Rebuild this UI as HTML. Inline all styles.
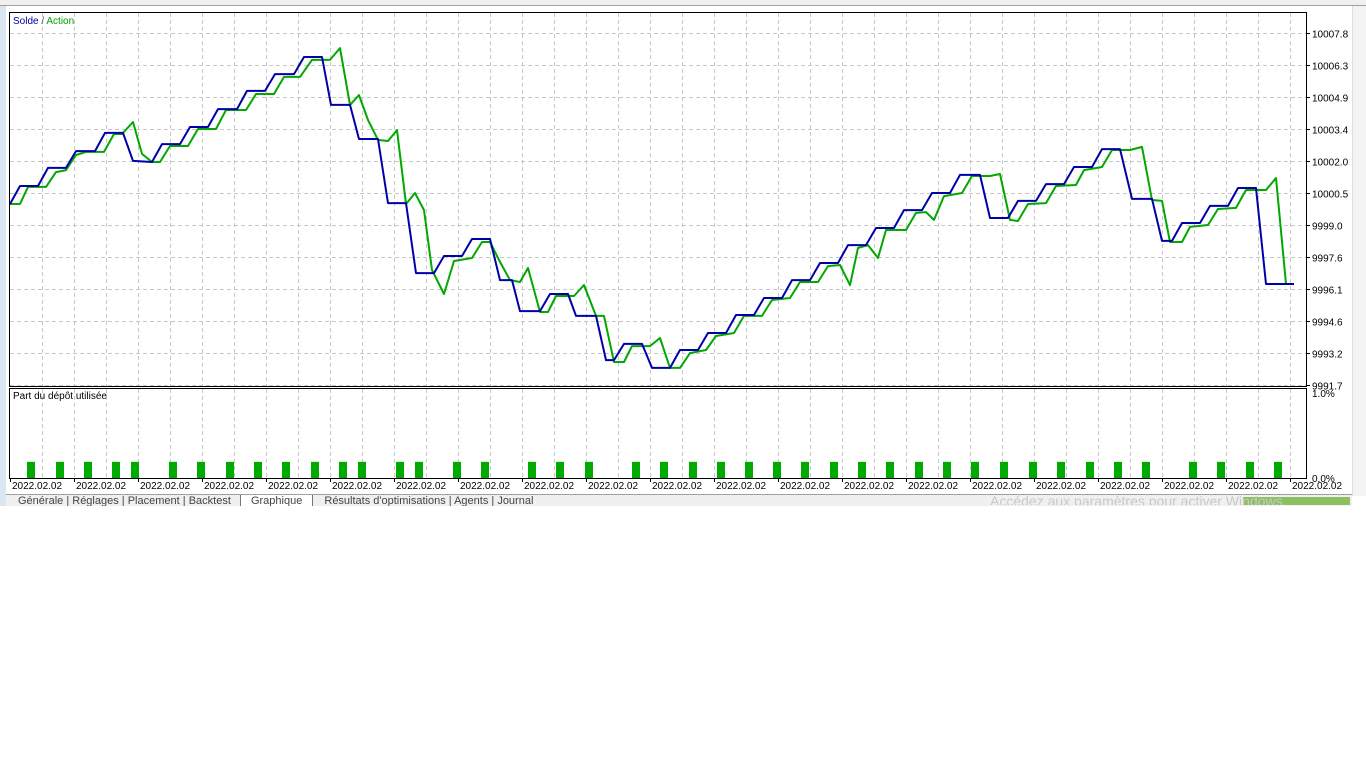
<!DOCTYPE html>
<html><head><meta charset="utf-8">
<style>
body{margin:0;width:1366px;height:768px;background:#fff;overflow:hidden;font-family:"Liberation Sans",sans-serif;position:relative}
.abs{position:absolute}
</style></head>
<body>
<div class="abs" style="left:0;top:0;width:1366px;height:5px;background:#f0f0f0;border-bottom:1px solid #a0a0a0"></div>
<div class="abs" style="left:0;top:6px;width:6px;height:500px;background:#dce6f0"></div>
<div class="abs" style="left:1352px;top:6px;width:14px;height:490px;background:#f4f4f4;border-left:1px solid #ddd"></div>
<svg class="abs" style="left:0;top:0" width="1366" height="768">
<g id="grid"></g>
<rect x="9.5" y="12.5" width="1297" height="374" fill="none" stroke="#000"/>
<rect x="9.5" y="388.5" width="1297" height="90" fill="none" stroke="#000"/>
<g id="marks"></g>
<g id="labels" font-size="10" fill="#000" font-family="Liberation Sans, sans-serif"></g>
<text x="13" y="24" font-size="10"><tspan fill="#0000a0">Solde</tspan><tspan fill="#555"> / </tspan><tspan fill="#00a000">Action</tspan></text>
<text x="13" y="399" font-size="10">Part du dépôt utilisée</text>
</svg>
<div class="abs" style="left:6px;top:494px;width:1346px;height:11px;overflow:hidden;background:#f0f0f0;border-top:1px solid #a0a0a0;font-size:11px;color:#444;white-space:nowrap">
<span style="margin-left:12px">Générale</span> |
<span>Réglages</span> |
<span>Placement</span> |
<span>Backtest</span>
<span style="background:#fff;padding:0 10px;margin-left:6px;border:1px solid #777">Graphique</span>
<span style="margin-left:8px">Résultats d'optimisations</span> |
<span>Agents</span> |
<span>Journal</span>
</div>
<div class="abs" style="left:1243px;top:497px;width:107px;height:8px;background:#8cc060"></div>
<div class="abs" style="left:990px;top:493px;font-size:14px;color:#c8c8c8;white-space:nowrap;height:12px;overflow:hidden">Accédez aux paramètres pour activer Windows.</div>
<script>
const blueT=[0,10,28,38,56,66,85,95,113,123,142,152,170,180,198,208,227,237,255,265,284,294,312,321,340,349,368,378,396,406,424,434,452,462,480,490,502,510,530,540,558,566,586,596,604,614,632,642,660,670,688,698,716,726,744,754,772,782,800,810,828,838,856,866,884,894,912,922,940,950,970,980,998,1008,1026,1036,1054,1064,1082,1092,1110,1122,1142,1152,1162,1172,1190,1200,1218,1228,1246,1256,1284];
const blueV=[9999.98,10000.80,10000.80,10001.63,10001.63,10002.40,10002.40,10003.23,10003.23,10001.95,10001.90,10002.72,10002.72,10003.50,10003.50,10004.32,10004.32,10005.15,10005.15,10005.92,10005.92,10006.70,10006.70,10004.51,10004.51,10002.95,10002.95,10000.02,10000.02,9996.82,9996.82,9997.60,9997.60,9998.38,9998.38,9996.50,9996.50,9995.08,9995.08,9995.86,9995.86,9994.86,9994.86,9992.84,9992.84,9993.58,9993.58,9992.48,9992.48,9993.30,9993.30,9994.08,9994.08,9994.90,9994.90,9995.68,9995.68,9996.50,9996.50,9997.28,9997.28,9998.10,9998.10,9998.88,9998.88,9999.70,9999.70,10000.48,10000.48,10001.31,10001.31,9999.34,9999.34,10000.12,10000.12,10000.89,10000.89,10001.67,10001.67,10002.49,10002.49,10000.21,10000.21,9998.29,9998.29,9999.11,9999.11,9999.89,9999.89,10000.71,10000.71,9996.32,9996.32];
const greenT=[0,10,18,36,46,56,66,76,94,104,112,123,132,142,150,160,178,188,206,216,236,246,264,274,290,302,320,330,340,349,358,368,378,387,396,405,414,422,434,444,462,472,480,490,500,510,518,530,538,546,564,574,586,594,604,614,622,640,650,660,670,680,696,706,724,734,752,762,780,790,808,818,830,840,848,858,868,876,896,906,916,924,934,952,962,980,990,1000,1008,1018,1036,1046,1066,1074,1092,1102,1120,1132,1142,1152,1160,1172,1180,1198,1208,1226,1236,1256,1266,1276,1284];
const greenV=[9999.98,9999.98,10000.76,10000.76,10001.44,10001.53,10002.22,10002.36,10002.36,10003.18,10003.18,10003.73,10002.27,10001.90,10001.90,10002.63,10002.63,10003.41,10003.41,10004.28,10004.28,10005.01,10005.01,10005.79,10005.79,10006.57,10006.57,10007.11,10004.51,10004.96,10003.82,10002.91,10002.86,10003.36,9999.98,10000.48,9999.70,9996.96,9995.86,9997.37,9997.51,9998.24,9998.24,9997.33,9996.50,9996.41,9997.05,9995.04,9995.04,9995.77,9995.77,9996.27,9994.86,9994.86,9992.75,9992.75,9993.48,9993.48,9993.85,9992.48,9992.48,9993.16,9993.30,9993.94,9994.08,9994.86,9994.86,9995.59,9995.68,9996.41,9996.41,9997.14,9997.19,9996.27,9997.97,9998.10,9997.51,9998.79,9998.79,9999.57,9999.61,9999.25,10000.34,10000.48,10001.26,10001.26,10001.35,9999.25,9999.20,9999.98,10000.02,10000.80,10000.85,10001.53,10001.67,10002.45,10002.45,10002.59,10000.16,10000.12,9998.24,9998.24,9998.93,9999.02,9999.75,9999.80,10000.62,10000.62,10001.17,9996.32,9996.32];
const barT=[21,50,78,106,125,163,191,220,248,276,305,333,352,390,409,447,475,522,550,579,626,654,683,711,739,767,795,824,852,880,909,937,965,994,1023,1051,1080,1108,1136,1183,1211,1240,1268];
const barV=[0.19,0.19,0.19,0.19,0.19,0.19,0.19,0.19,0.19,0.19,0.19,0.19,0.19,0.19,0.19,0.19,0.19,0.19,0.19,0.19,0.19,0.19,0.19,0.19,0.19,0.19,0.19,0.19,0.19,0.19,0.19,0.19,0.19,0.19,0.19,0.19,0.19,0.19,0.19,0.19,0.19,0.19,0.19];
const yTicks=["10007.8","10006.3","10004.9","10003.4","10002.0","10000.5","9999.0","9997.6","9996.1","9994.6","9993.2","9991.7"];
const xTickLabels=["2022.02.02","2022.02.02","2022.02.02","2022.02.02","2022.02.02","2022.02.02","2022.02.02","2022.02.02","2022.02.02","2022.02.02","2022.02.02","2022.02.02","2022.02.02","2022.02.02","2022.02.02","2022.02.02","2022.02.02","2022.02.02","2022.02.02","2022.02.02","2022.02.02"];
const pctTicks=["1.0%","0.0%"];
const NS="http://www.w3.org/2000/svg";
const yMin=9991.7,yMax=10007.8;
const X=t=>10+t;
const Y=v=>385-(v-yMin)*(352/(yMax-yMin));
const YB=p=>478-p*85;
const grid=document.getElementById('grid'),marks=document.getElementById('marks'),labels=document.getElementById('labels');
function mk(tag,parent,attrs){const e=document.createElementNS(NS,tag);for(const k in attrs)e.setAttribute(k,attrs[k]);parent.appendChild(e);return e;}
// grid
for(let i=0;i<yTicks.length;i++){
  const y=Math.round(33+i*32)+0.5;
  const l=mk('line',grid,{x1:10,x2:1306,y1:y,y2:y,stroke:'#c8c8c8','stroke-dasharray':'4,3'});
  
  
  const tk=mk('line',grid,{x1:1306,x2:1310,y1:y,y2:y,stroke:'#000'});
  const tx=mk('text',labels,{x:1312,y:y+4});
  tx.textContent=yTicks[i];
  
  
}
for(let x=42;x<1306;x+=32){
  const l=mk('line',grid,{x1:x+0.5,x2:x+0.5,y1:13,y2:386,stroke:'#c8c8c8','stroke-dasharray':'4,3'});
  
  
  const l2=mk('line',grid,{x1:x+0.5,x2:x+0.5,y1:389,y2:478,stroke:'#c8c8c8','stroke-dasharray':'4,3'});
  
  
}
for(let i=0;i<xTickLabels.length;i++){
  const x=12+i*64;
  mk('line',grid,{x1:x-1.5,x2:x-1.5,y1:478,y2:482,stroke:'#000'});
  const tx=mk('text',labels,{x:x,y:489});
  tx.textContent=xTickLabels[i];
  
  
}
pctTicks.forEach((s,i)=>{
  const tx=mk('text',labels,{x:1312,y:i?482:397});
  tx.textContent=s;
  
  
});
// bars
for(let i=0;i<barT.length;i++){
  const y=YB(barV[i]);
  const r=mk('rect',marks,{x:X(barT[i])-4,y:y,width:8,height:478-y,fill:'#00aa00'});
  
  
}
function line(ts,vs,color,name){
  const pts=ts.map((t,i)=>X(t)+','+Y(vs[i]).toFixed(1)).join(' ');
  const p=mk('polyline',marks,{points:pts,fill:'none',stroke:color,'stroke-width':2,'stroke-linejoin':'round'});
  
  
}
line(greenT,greenV,'#00a800','equity-line');
line(blueT,blueV,'#0000aa','balance-line');
</script>
</body></html>
